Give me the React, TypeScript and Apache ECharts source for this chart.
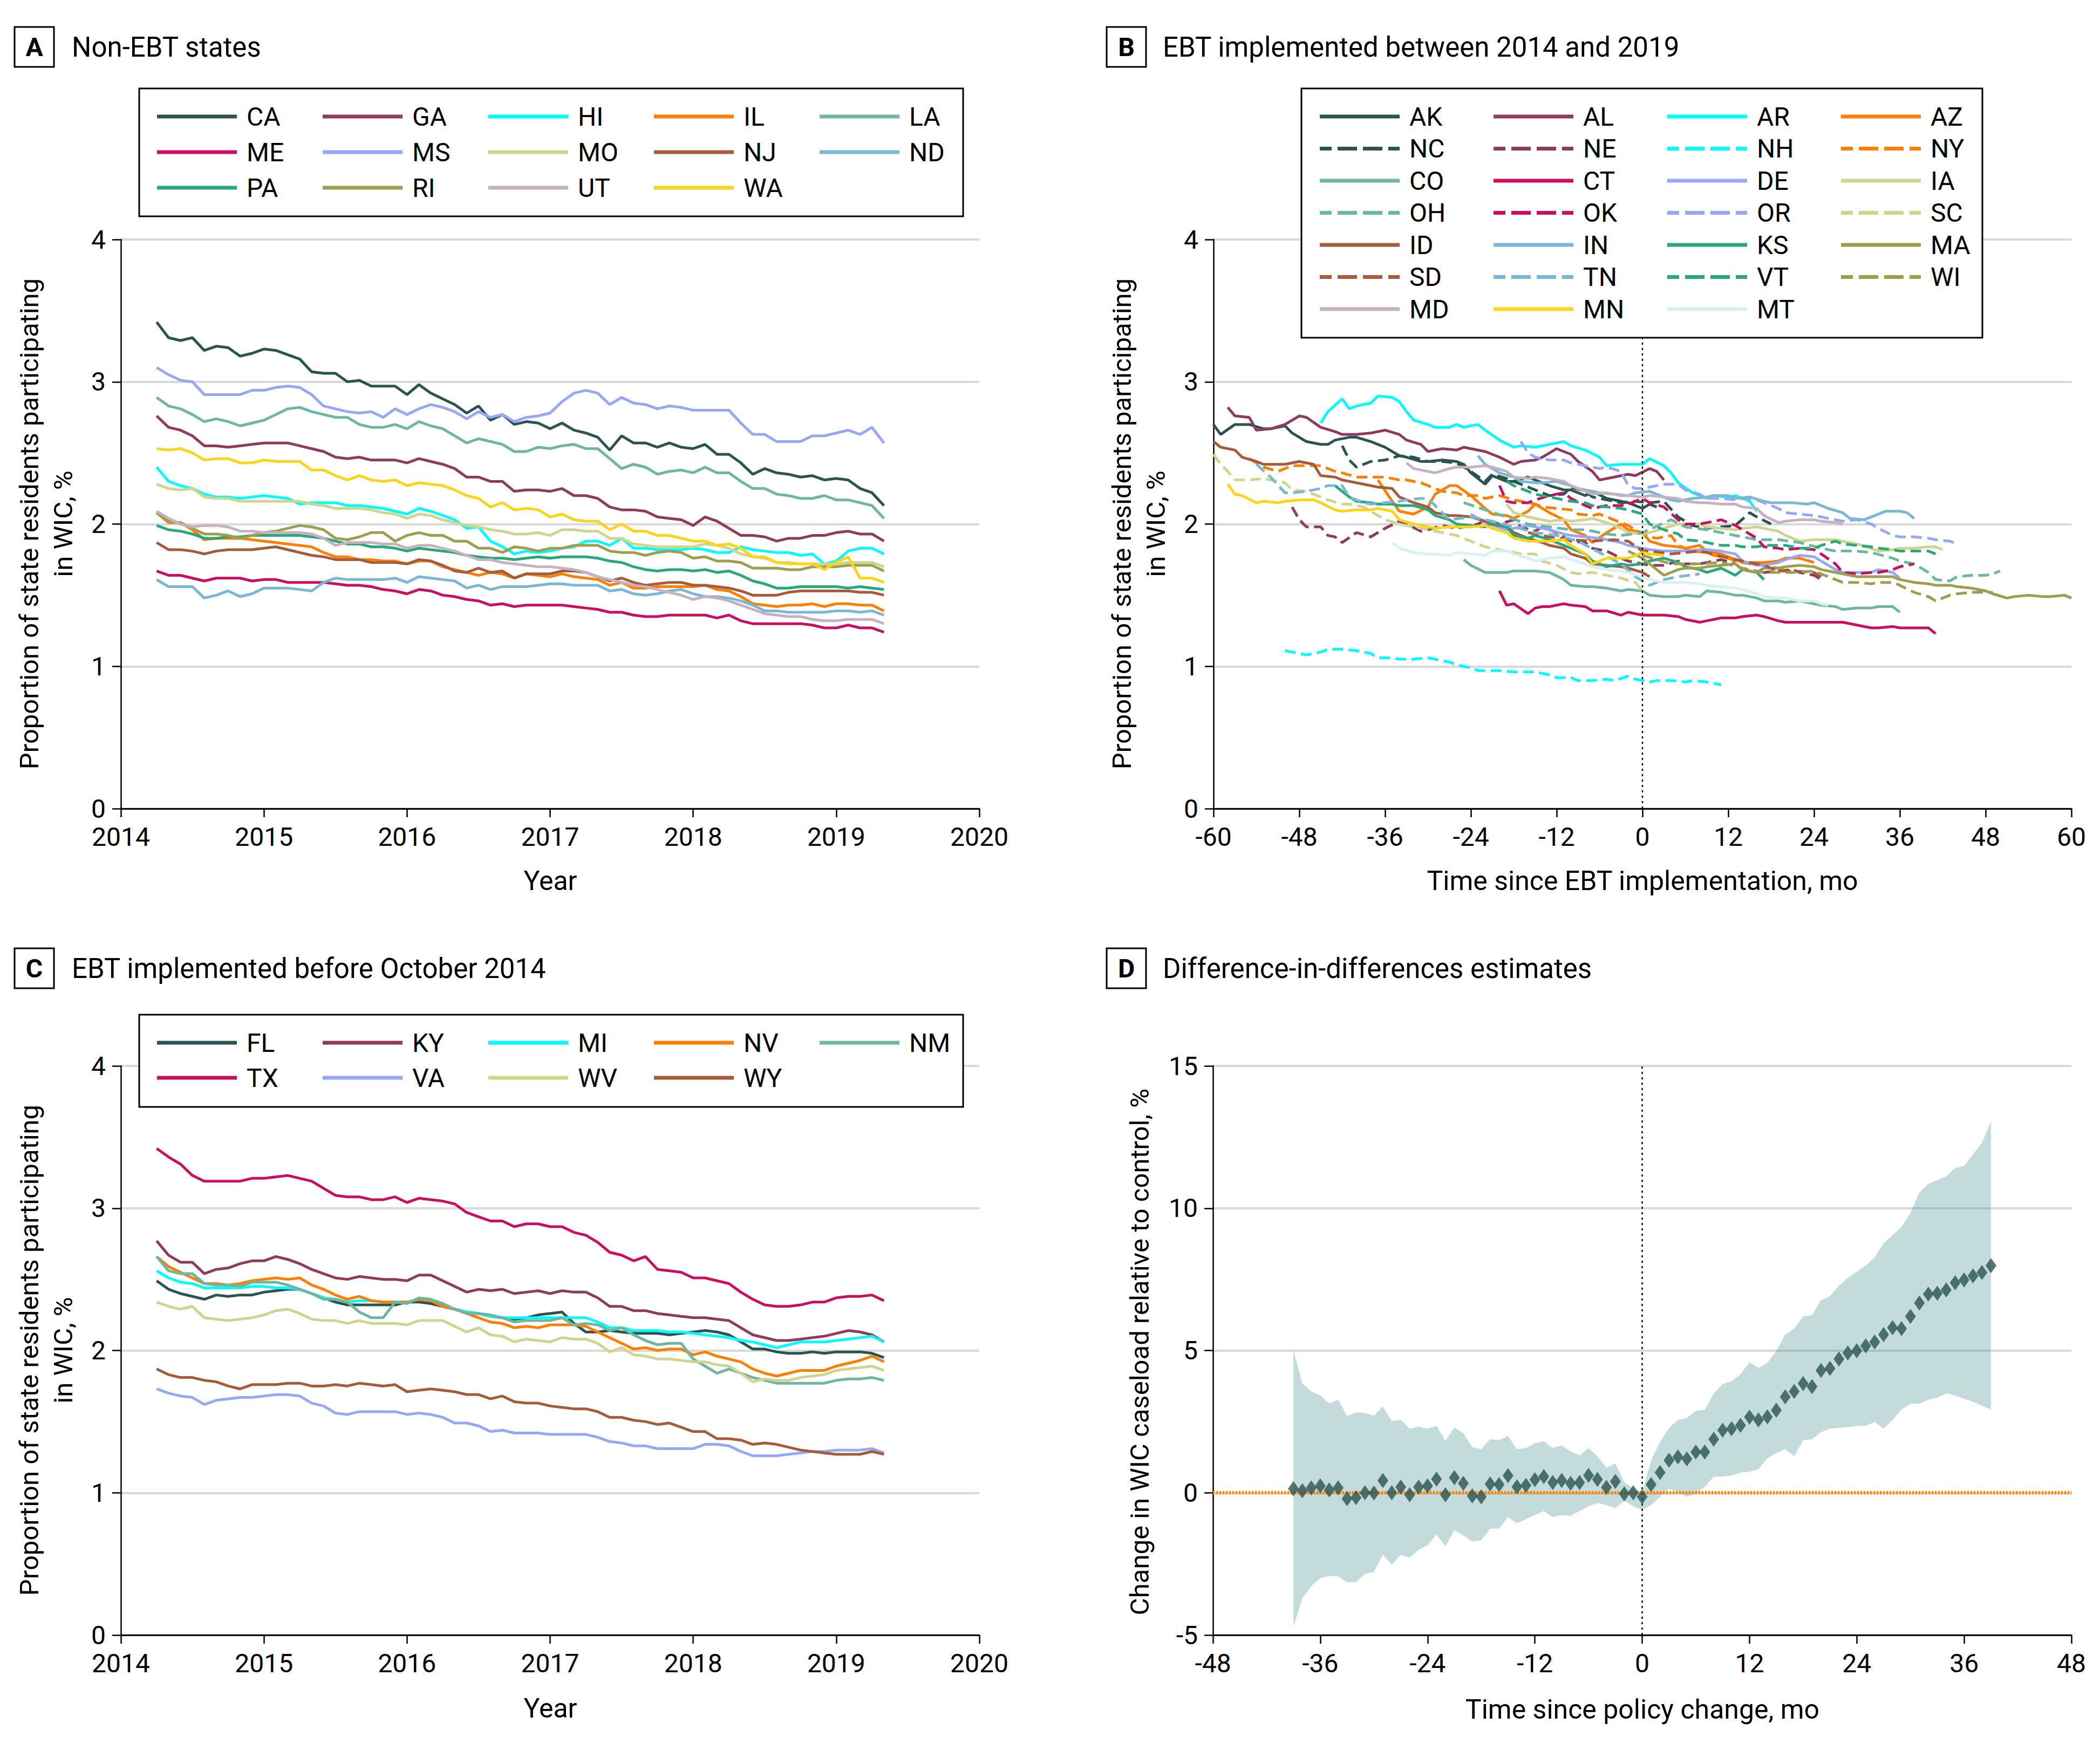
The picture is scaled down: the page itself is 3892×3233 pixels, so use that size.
import React, { useEffect, useRef } from "react";
import * as echarts from "echarts";

const FONT = "Roboto";

// ---------------- Panel A: non-EBT states, monthly from April 2014 ----------------
const A_START = 2014.25;
const A_CA = [3.42,3.31,3.29,3.31,3.22,3.25,3.24,3.18,3.20,3.23,3.22,3.19,3.16,3.07,3.06,3.06,3.00,3.01,2.97,2.97,2.97,2.91,2.98,2.92,2.88,2.84,2.78,2.83,2.73,2.77,2.70,2.72,2.71,2.67,2.71,2.66,2.64,2.61,2.52,2.62,2.57,2.57,2.54,2.57,2.54,2.53,2.56,2.49,2.49,2.43,2.35,2.39,2.36,2.35,2.33,2.34,2.31,2.32,2.31,2.25,2.22,2.13];
const A_GA = [2.76,2.68,2.66,2.62,2.55,2.55,2.54,2.55,2.56,2.57,2.57,2.57,2.55,2.53,2.51,2.47,2.46,2.47,2.45,2.45,2.45,2.43,2.46,2.44,2.42,2.39,2.33,2.33,2.30,2.30,2.23,2.24,2.24,2.23,2.25,2.20,2.20,2.18,2.12,2.10,2.10,2.09,2.05,2.04,2.03,1.99,2.05,2.02,1.97,1.92,1.92,1.91,1.88,1.90,1.90,1.92,1.92,1.94,1.95,1.93,1.93,1.88];
const A_HI = [2.40,2.30,2.27,2.25,2.21,2.19,2.19,2.18,2.19,2.20,2.19,2.18,2.14,2.15,2.15,2.15,2.13,2.13,2.12,2.11,2.09,2.07,2.11,2.09,2.06,2.03,1.97,1.98,1.88,1.84,1.79,1.81,1.80,1.81,1.83,1.84,1.88,1.88,1.85,1.90,1.83,1.83,1.82,1.82,1.82,1.83,1.82,1.80,1.80,1.84,1.82,1.81,1.80,1.80,1.78,1.79,1.72,1.74,1.81,1.83,1.83,1.79];
const A_IL = [2.08,2.01,2.01,1.96,1.89,1.90,1.90,1.90,1.89,1.88,1.87,1.86,1.85,1.84,1.80,1.77,1.77,1.75,1.75,1.74,1.74,1.72,1.74,1.74,1.70,1.68,1.66,1.64,1.66,1.65,1.62,1.65,1.64,1.63,1.65,1.63,1.62,1.61,1.57,1.59,1.55,1.55,1.56,1.56,1.56,1.56,1.57,1.54,1.53,1.49,1.44,1.43,1.42,1.43,1.43,1.44,1.42,1.44,1.44,1.43,1.43,1.39];
const A_LA = [2.89,2.83,2.81,2.77,2.72,2.74,2.72,2.69,2.71,2.73,2.77,2.81,2.82,2.79,2.77,2.75,2.75,2.70,2.68,2.68,2.70,2.67,2.72,2.69,2.67,2.62,2.57,2.60,2.58,2.56,2.51,2.51,2.54,2.53,2.55,2.56,2.53,2.53,2.46,2.39,2.42,2.40,2.35,2.37,2.38,2.36,2.40,2.36,2.36,2.30,2.25,2.25,2.21,2.20,2.18,2.18,2.20,2.17,2.17,2.15,2.13,2.04];
const A_ME = [1.67,1.64,1.64,1.62,1.60,1.62,1.62,1.62,1.60,1.61,1.61,1.59,1.59,1.59,1.59,1.58,1.57,1.57,1.56,1.54,1.53,1.51,1.54,1.53,1.50,1.49,1.47,1.46,1.43,1.44,1.42,1.43,1.43,1.43,1.43,1.42,1.41,1.40,1.38,1.38,1.36,1.35,1.35,1.36,1.36,1.36,1.36,1.34,1.36,1.32,1.30,1.30,1.30,1.30,1.30,1.29,1.27,1.27,1.29,1.27,1.27,1.24];
const A_MS = [3.10,3.05,3.01,3.00,2.91,2.91,2.91,2.91,2.94,2.94,2.96,2.97,2.96,2.91,2.83,2.81,2.79,2.78,2.79,2.75,2.81,2.77,2.81,2.84,2.82,2.79,2.74,2.79,2.75,2.77,2.72,2.75,2.76,2.78,2.86,2.92,2.94,2.92,2.84,2.89,2.85,2.84,2.81,2.83,2.82,2.80,2.80,2.80,2.80,2.71,2.63,2.63,2.58,2.58,2.58,2.62,2.62,2.64,2.66,2.63,2.68,2.57];
const A_MO = [2.28,2.25,2.24,2.25,2.19,2.18,2.18,2.16,2.16,2.16,2.16,2.16,2.16,2.14,2.13,2.11,2.11,2.11,2.10,2.08,2.07,2.04,2.07,2.06,2.03,2.01,1.99,1.98,1.96,1.95,1.93,1.93,1.94,1.92,1.96,1.96,1.95,1.95,1.90,1.90,1.86,1.85,1.84,1.84,1.84,1.84,1.86,1.85,1.83,1.79,1.77,1.76,1.73,1.73,1.72,1.72,1.72,1.72,1.73,1.73,1.73,1.70];
const A_NJ = [1.87,1.82,1.82,1.81,1.79,1.81,1.82,1.82,1.82,1.83,1.84,1.82,1.80,1.78,1.77,1.75,1.75,1.75,1.73,1.73,1.73,1.72,1.75,1.74,1.71,1.67,1.66,1.69,1.66,1.67,1.62,1.65,1.65,1.65,1.67,1.67,1.66,1.63,1.60,1.62,1.59,1.57,1.58,1.59,1.59,1.57,1.57,1.56,1.55,1.53,1.50,1.50,1.50,1.52,1.53,1.53,1.53,1.53,1.53,1.52,1.52,1.50];
const A_ND = [1.61,1.56,1.56,1.56,1.48,1.50,1.53,1.49,1.51,1.55,1.55,1.55,1.54,1.53,1.59,1.62,1.61,1.61,1.61,1.61,1.62,1.59,1.63,1.62,1.61,1.60,1.55,1.57,1.54,1.56,1.56,1.56,1.57,1.58,1.58,1.57,1.57,1.57,1.53,1.54,1.51,1.50,1.51,1.53,1.54,1.51,1.49,1.49,1.48,1.46,1.43,1.39,1.39,1.38,1.38,1.38,1.38,1.39,1.39,1.38,1.39,1.36];
const A_PA = [1.99,1.96,1.95,1.93,1.90,1.90,1.91,1.91,1.92,1.92,1.92,1.92,1.92,1.91,1.90,1.88,1.86,1.86,1.84,1.84,1.83,1.81,1.83,1.82,1.81,1.80,1.78,1.77,1.76,1.76,1.75,1.76,1.77,1.76,1.77,1.77,1.77,1.76,1.74,1.73,1.70,1.68,1.67,1.68,1.68,1.67,1.68,1.66,1.67,1.64,1.60,1.58,1.55,1.55,1.56,1.56,1.56,1.56,1.55,1.56,1.55,1.54];
const A_RI = [2.08,2.02,2.01,1.97,1.93,1.93,1.92,1.90,1.92,1.94,1.95,1.97,1.99,1.98,1.96,1.90,1.89,1.91,1.94,1.94,1.88,1.92,1.94,1.92,1.92,1.88,1.88,1.83,1.83,1.80,1.84,1.83,1.81,1.83,1.83,1.85,1.85,1.85,1.81,1.80,1.80,1.78,1.80,1.81,1.80,1.76,1.77,1.74,1.74,1.73,1.69,1.69,1.69,1.68,1.68,1.70,1.70,1.70,1.71,1.71,1.71,1.67];
const A_UT = [2.09,2.04,2.00,1.98,1.99,1.99,1.98,1.95,1.95,1.94,1.94,1.94,1.94,1.93,1.90,1.85,1.87,1.87,1.87,1.86,1.86,1.83,1.85,1.85,1.83,1.81,1.78,1.75,1.75,1.73,1.72,1.71,1.70,1.70,1.69,1.68,1.66,1.63,1.61,1.59,1.57,1.56,1.54,1.52,1.50,1.47,1.49,1.48,1.46,1.43,1.40,1.37,1.36,1.35,1.35,1.33,1.32,1.32,1.33,1.33,1.33,1.30];
const A_WA = [2.53,2.52,2.53,2.50,2.45,2.46,2.46,2.43,2.43,2.45,2.44,2.44,2.44,2.38,2.38,2.34,2.31,2.34,2.31,2.30,2.31,2.27,2.29,2.28,2.27,2.24,2.20,2.18,2.12,2.15,2.10,2.11,2.10,2.05,2.07,2.03,2.02,2.02,1.96,2.00,1.95,1.95,1.92,1.92,1.90,1.88,1.88,1.85,1.86,1.83,1.77,1.77,1.73,1.72,1.72,1.72,1.68,1.73,1.77,1.62,1.62,1.59];

// ---------------- Panel C: EBT before October 2014, monthly from April 2014 ----------------
const C_FL = [2.49,2.43,2.40,2.38,2.36,2.39,2.38,2.39,2.39,2.41,2.42,2.43,2.43,2.40,2.37,2.34,2.32,2.32,2.32,2.32,2.32,2.34,2.34,2.33,2.31,2.29,2.27,2.26,2.24,2.23,2.22,2.23,2.25,2.26,2.27,2.19,2.13,2.13,2.14,2.13,2.12,2.12,2.12,2.11,2.12,2.13,2.14,2.13,2.11,2.06,2.01,2.01,1.99,1.98,1.98,1.99,1.98,1.99,1.99,1.99,1.98,1.95];
const C_KY = [2.77,2.67,2.62,2.62,2.54,2.57,2.58,2.61,2.63,2.63,2.66,2.64,2.61,2.57,2.54,2.51,2.50,2.52,2.51,2.50,2.50,2.49,2.53,2.53,2.49,2.45,2.41,2.43,2.42,2.43,2.40,2.41,2.42,2.40,2.42,2.41,2.41,2.37,2.31,2.31,2.28,2.28,2.26,2.25,2.24,2.23,2.23,2.22,2.21,2.16,2.11,2.09,2.07,2.07,2.08,2.09,2.10,2.12,2.14,2.13,2.11,2.06];
const C_MI = [2.56,2.51,2.48,2.47,2.44,2.44,2.44,2.44,2.45,2.45,2.44,2.44,2.43,2.40,2.37,2.36,2.34,2.35,2.35,2.34,2.34,2.34,2.36,2.35,2.32,2.29,2.27,2.26,2.24,2.23,2.23,2.23,2.23,2.23,2.23,2.23,2.23,2.20,2.16,2.16,2.14,2.14,2.14,2.13,2.13,2.12,2.11,2.10,2.09,2.07,2.06,2.04,2.02,2.04,2.06,2.06,2.06,2.07,2.08,2.09,2.10,2.06];
const C_NV = [2.66,2.59,2.55,2.51,2.47,2.47,2.46,2.47,2.49,2.50,2.51,2.50,2.51,2.46,2.43,2.39,2.36,2.38,2.35,2.34,2.34,2.34,2.36,2.35,2.31,2.29,2.26,2.23,2.20,2.19,2.16,2.17,2.16,2.18,2.18,2.18,2.17,2.13,2.09,2.05,2.01,2.02,2.00,2.01,2.01,1.97,1.99,1.96,1.94,1.92,1.87,1.84,1.82,1.84,1.86,1.86,1.86,1.89,1.91,1.93,1.96,1.92];
const C_NM = [2.66,2.56,2.54,2.54,2.47,2.46,2.46,2.45,2.48,2.48,2.48,2.46,2.43,2.40,2.36,2.36,2.34,2.27,2.23,2.23,2.34,2.33,2.37,2.36,2.33,2.29,2.26,2.26,2.25,2.23,2.20,2.21,2.21,2.21,2.23,2.18,2.19,2.18,2.14,2.16,2.11,2.07,2.04,2.05,2.05,1.94,1.89,1.84,1.87,1.84,1.81,1.79,1.77,1.77,1.77,1.77,1.77,1.79,1.80,1.80,1.81,1.79];
const C_TX = [3.42,3.36,3.31,3.23,3.19,3.19,3.19,3.19,3.21,3.21,3.22,3.23,3.21,3.19,3.14,3.09,3.08,3.08,3.06,3.06,3.08,3.04,3.07,3.06,3.05,3.03,2.97,2.94,2.91,2.91,2.87,2.89,2.89,2.87,2.87,2.83,2.81,2.76,2.69,2.67,2.63,2.66,2.57,2.56,2.55,2.51,2.51,2.49,2.47,2.41,2.36,2.32,2.31,2.31,2.32,2.34,2.34,2.37,2.38,2.38,2.39,2.35];
const C_VA = [1.73,1.70,1.68,1.67,1.62,1.65,1.66,1.67,1.67,1.68,1.69,1.69,1.68,1.63,1.61,1.56,1.55,1.57,1.57,1.57,1.57,1.55,1.56,1.55,1.53,1.49,1.49,1.47,1.43,1.44,1.42,1.42,1.42,1.41,1.41,1.41,1.41,1.39,1.36,1.35,1.33,1.33,1.31,1.31,1.31,1.31,1.34,1.34,1.33,1.29,1.26,1.26,1.26,1.27,1.28,1.29,1.29,1.30,1.30,1.30,1.31,1.28];
const C_WV = [2.34,2.31,2.29,2.31,2.23,2.22,2.21,2.22,2.23,2.25,2.28,2.29,2.26,2.22,2.21,2.21,2.19,2.21,2.19,2.19,2.19,2.18,2.21,2.21,2.21,2.17,2.13,2.16,2.11,2.10,2.06,2.08,2.07,2.06,2.09,2.08,2.08,2.05,1.99,2.02,1.97,1.96,1.94,1.94,1.93,1.92,1.92,1.90,1.89,1.84,1.78,1.80,1.79,1.79,1.81,1.82,1.83,1.86,1.87,1.88,1.89,1.86];
const C_WY = [1.87,1.83,1.81,1.81,1.79,1.78,1.75,1.73,1.76,1.76,1.76,1.77,1.77,1.75,1.75,1.76,1.75,1.77,1.76,1.75,1.76,1.71,1.72,1.73,1.72,1.71,1.69,1.69,1.66,1.68,1.64,1.63,1.63,1.61,1.60,1.59,1.59,1.57,1.53,1.53,1.51,1.50,1.48,1.49,1.46,1.43,1.43,1.38,1.38,1.37,1.34,1.35,1.34,1.32,1.30,1.29,1.28,1.27,1.27,1.27,1.29,1.27];

// ---------------- Panel B: EBT implemented 2014-2019, [months since EBT, %] ----------------
const B_AK = [[-60,2.70],[-59,2.63],[-57,2.70],[-55,2.70],[-53,2.67],[-52,2.67],[-50,2.69],[-49,2.64],[-47,2.58],[-45,2.56],[-44,2.56],[-43,2.59],[-41,2.61],[-40,2.61],[-38,2.58],[-36,2.54],[-34,2.48],[-33,2.47],[-31,2.44],[-30,2.44],[-28,2.45],[-26,2.44],[-25,2.42],[-24,2.36],[-22,2.28],[-21,2.34],[-19,2.30],[-18,2.30],[-16,2.33],[-14,2.29],[-13,2.27],[-11,2.24],[-10,2.24],[-8,2.20],[-7,2.23],[-5,2.18],[-3,2.16],[-2,2.15],[0,2.11],[1,2.14],[2,2.12]];
const B_NC = [[-42,2.55],[-41,2.45],[-40,2.40],[-38,2.44],[-36,2.45],[-34,2.48],[-32,2.47],[-30,2.44],[-28,2.44],[-26,2.43],[-24,2.37],[-22,2.30],[-21,2.35],[-19,2.32],[-17,2.28],[-15,2.24],[-13,2.20],[-11,2.21],[-10,2.26],[-8,2.23],[-7,2.19],[-5,2.17],[-3,2.15],[-1,2.16],[1,2.15],[3,2.16],[5,2.05],[7,1.99],[9,1.97],[11,1.98],[13,1.99],[15,2.08],[16,2.05],[18,2.00]];
const B_AL = [[-58,2.82],[-57,2.76],[-55,2.75],[-54,2.66],[-52,2.67],[-50,2.70],[-48,2.76],[-47,2.75],[-45,2.68],[-43,2.65],[-42,2.63],[-40,2.63],[-38,2.64],[-36,2.66],[-34,2.63],[-33,2.59],[-31,2.56],[-30,2.51],[-28,2.53],[-26,2.52],[-25,2.54],[-24,2.53],[-22,2.51],[-20,2.47],[-18,2.42],[-17,2.44],[-15,2.45],[-14,2.47],[-12,2.53],[-10,2.49],[-9,2.44],[-7,2.37],[-6,2.31],[-4,2.33],[-2,2.35],[-1,2.34],[1,2.39],[2,2.37],[3,2.31]];
const B_NE = [[-49,2.12],[-48,2.03],[-47,1.98],[-45,1.98],[-44,1.92],[-43,1.91],[-42,1.87],[-40,1.94],[-38,1.91],[-36,1.97],[-34,2.02],[-33,2.00],[-31,1.95],[-30,1.96],[-28,1.99],[-26,1.97],[-25,1.98],[-23,2.00],[-22,2.03],[-20,2.00],[-18,2.03],[-17,1.98],[-15,1.95],[-14,1.98],[-12,1.94],[-10,1.88],[-8,1.87],[-7,1.83],[-5,1.81],[-3,1.76],[-2,1.74],[0,1.72],[1,1.71],[3,1.71],[5,1.74],[6,1.72],[8,1.72],[9,1.73],[11,1.75],[13,1.72],[14,1.68],[16,1.66],[17,1.66],[19,1.67],[21,1.68],[22,1.66],[24,1.64],[25,1.61]];
const B_AR = [[-45,2.71],[-44,2.79],[-42,2.88],[-41,2.81],[-40,2.83],[-38,2.85],[-37,2.90],[-35,2.89],[-34,2.86],[-33,2.79],[-32,2.73],[-30,2.70],[-29,2.68],[-27,2.68],[-26,2.70],[-25,2.68],[-23,2.70],[-22,2.66],[-20,2.59],[-18,2.54],[-17,2.55],[-15,2.54],[-14,2.55],[-12,2.57],[-11,2.58],[-10,2.55],[-8,2.52],[-6,2.47],[-5,2.41],[-3,2.42],[-2,2.42],[0,2.42],[1,2.46],[3,2.41],[4,2.36],[5,2.29],[7,2.22],[9,2.18],[10,2.20],[12,2.19],[13,2.20],[15,2.16],[16,2.09]];
const B_NH = [[-50,1.11],[-48,1.09],[-47,1.08],[-45,1.10],[-44,1.12],[-42,1.12],[-40,1.11],[-38,1.09],[-37,1.06],[-35,1.06],[-34,1.05],[-32,1.05],[-30,1.06],[-29,1.05],[-27,1.03],[-26,1.01],[-24,0.99],[-23,0.97],[-21,0.97],[-20,0.97],[-18,0.96],[-17,0.96],[-15,0.96],[-13,0.94],[-12,0.92],[-10,0.92],[-9,0.90],[-7,0.90],[-5,0.91],[-4,0.90],[-2,0.93],[-1,0.91],[1,0.89],[2,0.90],[4,0.90],[6,0.89],[7,0.90],[9,0.89],[11,0.87]];
const B_AZ = [[-37,2.31],[-35,2.16],[-34,2.09],[-32,2.07],[-30,2.12],[-29,2.21],[-27,2.27],[-26,2.27],[-24,2.20],[-22,2.11],[-21,2.07],[-19,2.06],[-18,2.04],[-16,2.09],[-15,2.14],[-13,2.08],[-11,2.03],[-10,1.96],[-8,1.92],[-7,1.87],[-5,1.94],[-3,2.00],[-2,1.96],[0,1.94],[1,1.88],[3,1.85],[5,1.84],[6,1.83],[8,1.85],[9,1.81],[11,1.79],[13,1.75],[14,1.73],[16,1.73],[17,1.73],[19,1.74],[20,1.76],[22,1.76],[24,1.73]];
const B_NY = [[-55,2.46],[-53,2.40],[-51,2.37],[-49,2.41],[-46,2.41],[-45,2.41],[-43,2.37],[-42,2.36],[-40,2.33],[-38,2.33],[-36,2.33],[-34,2.31],[-33,2.31],[-31,2.29],[-30,2.27],[-28,2.23],[-26,2.22],[-25,2.20],[-23,2.20],[-22,2.18],[-20,2.20],[-18,2.17],[-17,2.16],[-15,2.14],[-14,2.12],[-12,2.11],[-10,2.10],[-9,2.07],[-7,2.06],[-6,2.07],[-4,2.03],[-2,1.99],[-1,1.96],[1,1.91],[2,1.90],[4,1.92],[5,1.85],[7,1.81],[9,1.80],[10,1.78],[12,1.76],[13,1.74],[15,1.72],[17,1.71],[18,1.70],[20,1.68]];
const B_CO = [[-25,1.75],[-24,1.71],[-22,1.66],[-21,1.66],[-19,1.66],[-18,1.67],[-16,1.67],[-15,1.67],[-13,1.66],[-11,1.61],[-10,1.57],[-8,1.56],[-7,1.56],[-5,1.55],[-3,1.53],[-2,1.54],[0,1.53],[1,1.50],[3,1.49],[5,1.49],[6,1.50],[8,1.49],[9,1.53],[11,1.52],[13,1.50],[14,1.50],[16,1.48],[17,1.46],[19,1.46],[20,1.45],[22,1.46],[24,1.44],[25,1.43],[27,1.42],[28,1.40],[30,1.41],[32,1.41],[33,1.42],[35,1.42],[36,1.38]];
const B_CT = [[-20,1.53],[-19,1.43],[-18,1.44],[-16,1.37],[-15,1.41],[-14,1.42],[-13,1.42],[-11,1.44],[-10,1.43],[-8,1.42],[-7,1.39],[-5,1.39],[-3,1.36],[-2,1.38],[0,1.36],[1,1.36],[3,1.36],[5,1.35],[6,1.33],[8,1.31],[9,1.32],[11,1.34],[13,1.34],[14,1.35],[16,1.36],[17,1.35],[19,1.32],[20,1.31],[22,1.31],[24,1.31],[25,1.31],[27,1.31],[28,1.31],[30,1.29],[32,1.27],[33,1.27],[35,1.28],[36,1.27],[38,1.27],[40,1.27],[41,1.23]];
const B_DE = [[-24,2.07],[-22,2.01],[-19,1.96],[-18,1.97],[-16,1.99],[-14,1.97],[-13,1.96],[-11,1.93],[-10,1.92],[-8,1.91],[-6,1.90],[-5,1.89],[-3,1.87],[-2,1.85],[0,1.83],[1,1.82],[3,1.81],[5,1.81],[6,1.81],[8,1.82],[9,1.82],[11,1.81],[13,1.79],[14,1.74],[16,1.71],[17,1.71],[19,1.73],[20,1.75],[22,1.78],[24,1.77],[25,1.74],[27,1.68],[28,1.66],[30,1.66],[32,1.66],[33,1.68],[35,1.66],[36,1.62]];
const B_IA = [[-19,2.14],[-18,2.08],[-16,2.05],[-15,2.04],[-13,2.02],[-11,2.03],[-10,2.02],[-8,2.03],[-7,2.04],[-5,2.01],[-3,1.97],[-2,1.94],[0,1.93],[1,1.94],[3,1.97],[5,2.00],[6,2.00],[8,2.00],[9,1.98],[11,1.97],[13,1.96],[14,1.97],[16,1.98],[17,1.97],[19,1.95],[20,1.92],[22,1.88],[24,1.89],[25,1.89],[27,1.89],[28,1.88],[30,1.86],[32,1.83],[33,1.81],[35,1.82],[36,1.83],[38,1.83],[40,1.84],[41,1.84],[42,1.82]];
const B_OH = [[-25,2.15],[-22,2.10],[-19,2.05],[-16,2.00],[-13,1.98],[-10,1.96],[-8,1.96],[-5,1.93],[-3,1.92],[0,1.94],[4,2.03],[6,1.98],[9,1.96],[13,1.92],[16,1.89],[19,1.89],[22,1.87],[25,1.83],[27,1.81],[30,1.81],[32,1.80],[35,1.76],[36,1.74],[38,1.72],[40,1.66],[41,1.61],[43,1.60],[44,1.63],[46,1.64],[48,1.64],[49,1.65],[50,1.67]];
const B_OK = [[-20,2.27],[-19,2.16],[-18,2.15],[-16,2.15],[-15,2.17],[-13,2.20],[-11,2.22],[-10,2.18],[-8,2.13],[-7,2.11],[-5,2.13],[-3,2.13],[-2,2.14],[0,2.18],[1,2.15],[3,2.12],[5,2.03],[6,2.00],[8,2.00],[9,2.01],[11,2.03],[13,1.99],[14,1.96],[16,1.90],[17,1.84],[19,1.83],[20,1.82],[22,1.83],[24,1.82],[25,1.79],[27,1.72],[28,1.66],[30,1.65],[32,1.66],[33,1.66],[35,1.68],[36,1.70],[38,1.72]];
const B_OR = [[-17,2.58],[-16,2.50],[-15,2.47],[-13,2.45],[-11,2.45],[-10,2.43],[-8,2.41],[-6,2.39],[-5,2.40],[-3,2.37],[-2,2.27],[-1,2.25],[0,2.25],[1,2.26],[3,2.28],[5,2.28],[6,2.24],[8,2.21],[9,2.18],[11,2.18],[13,2.17],[14,2.18],[16,2.17],[17,2.15],[19,2.11],[20,2.08],[22,2.07],[24,2.06],[25,2.05],[27,2.03],[28,2.02],[30,2.03],[32,2.00],[33,1.97],[35,1.92],[36,1.91],[38,1.91],[40,1.90],[41,1.89],[43,1.88],[44,1.86]];
const B_SC = [[-60,2.49],[-59,2.42],[-58,2.37],[-57,2.31],[-55,2.31],[-53,2.32],[-52,2.31],[-50,2.29],[-49,2.24],[-47,2.23],[-45,2.19],[-44,2.17],[-42,2.14],[-41,2.14],[-39,2.12],[-38,2.09],[-36,2.03],[-34,2.00],[-33,1.99],[-31,1.97],[-30,1.96],[-28,1.94],[-26,1.92],[-25,1.90],[-23,1.86],[-22,1.84],[-20,1.82],[-18,1.80],[-17,1.79],[-15,1.79],[-14,1.74],[-12,1.71],[-10,1.66],[-9,1.65],[-7,1.66],[-6,1.65],[-4,1.63],[-3,1.62],[-1,1.59],[0,1.53]];
const B_ID = [[-60,2.58],[-59,2.54],[-57,2.52],[-56,2.47],[-54,2.44],[-53,2.42],[-51,2.42],[-50,2.42],[-48,2.44],[-46,2.42],[-45,2.34],[-43,2.33],[-42,2.31],[-40,2.29],[-38,2.27],[-37,2.26],[-35,2.25],[-34,2.19],[-32,2.15],[-30,2.12],[-29,2.08],[-27,2.06],[-26,2.06],[-24,2.05],[-22,2.02],[-21,2.00],[-19,1.98],[-18,1.94],[-16,1.90],[-14,1.87],[-13,1.85],[-11,1.83],[-10,1.79],[-8,1.76],[-7,1.72],[-5,1.71],[-3,1.70],[-2,1.69],[0,1.66],[1,1.63]];
const B_SD = [[-16,1.94],[-13,1.91],[-10,1.89],[-7,1.88],[-4,1.89],[-2,1.88],[0,1.81],[1,1.81],[4,1.79],[6,1.80],[8,1.81],[9,1.80],[12,1.76],[14,1.74],[17,1.71],[19,1.67],[21,1.67],[24,1.66],[25,1.63]];
const B_IN = [[-23,2.48],[-22,2.42],[-20,2.36],[-18,2.33],[-17,2.30],[-15,2.29],[-14,2.29],[-12,2.30],[-10,2.27],[-9,2.25],[-7,2.23],[-6,2.22],[-4,2.21],[-2,2.20],[-1,2.22],[1,2.23],[2,2.21],[4,2.17],[5,2.16],[7,2.18],[9,2.19],[10,2.20],[12,2.20],[13,2.18],[15,2.19],[17,2.16],[18,2.15],[20,2.15],[21,2.15],[23,2.14],[24,2.15],[26,2.11],[28,2.08],[29,2.04],[31,2.03],[32,2.05],[34,2.09],[36,2.09],[37,2.08],[38,2.04]];
const B_TN = [[-54,2.42],[-52,2.33],[-50,2.22],[-49,2.22],[-47,2.23],[-45,2.25],[-44,2.27],[-42,2.27],[-41,2.19],[-39,2.15],[-38,2.14],[-36,2.15],[-34,2.16],[-33,2.17],[-31,2.18],[-30,2.18],[-27,2.03],[-24,2.05],[-21,2.02],[-18,1.98],[-15,1.94],[-12,1.92],[-9,1.88],[-6,1.80],[-3,1.72],[-1,1.63],[1,1.57],[3,1.61],[5,1.63],[8,1.65]];
const B_KS = [[-43,2.27],[-41,2.19],[-40,2.16],[-38,2.15],[-37,2.14],[-35,2.14],[-34,2.13],[-32,2.13],[-30,2.10],[-29,2.06],[-27,2.03],[-26,2.00],[-24,1.99],[-22,1.98],[-21,2.01],[-19,1.98],[-18,1.92],[-16,1.90],[-15,1.92],[-13,1.89],[-11,1.85],[-10,1.83],[-8,1.79],[-7,1.74],[-5,1.70],[-3,1.72],[-2,1.71],[0,1.72],[1,1.74],[3,1.76],[5,1.73],[6,1.70],[8,1.68],[9,1.66],[11,1.69],[13,1.64],[14,1.68],[16,1.66],[17,1.61]];
const B_VT = [[-19,2.30],[-18,2.27],[-16,2.23],[-15,2.21],[-13,2.19],[-11,2.17],[-10,2.16],[-8,2.15],[-7,2.13],[-5,2.12],[-3,2.11],[-2,2.10],[0,2.07],[1,2.00],[3,1.96],[5,1.93],[6,1.89],[8,1.88],[9,1.87],[11,1.85],[13,1.85],[14,1.84],[16,1.84],[17,1.85],[19,1.85],[20,1.85],[22,1.83],[24,1.83],[25,1.85],[27,1.88],[28,1.86],[30,1.85],[32,1.84],[33,1.83],[35,1.82],[36,1.81],[38,1.81],[40,1.81],[41,1.79]];
const B_MA = [[-2,1.81],[0,1.76],[1,1.72],[3,1.64],[5,1.68],[6,1.69],[8,1.69],[9,1.70],[11,1.71],[13,1.72],[14,1.68],[16,1.66],[17,1.69],[19,1.69],[20,1.70],[22,1.71],[24,1.70],[25,1.68],[27,1.66],[28,1.65],[30,1.63],[32,1.63],[33,1.63],[35,1.63],[36,1.61],[38,1.59],[40,1.58],[41,1.57],[43,1.57],[44,1.56],[46,1.55],[48,1.53],[49,1.51],[51,1.48],[52,1.49],[54,1.50],[56,1.49],[57,1.49],[59,1.50],[60,1.48]];
const B_WI = [[0,1.78],[4,1.72],[8,1.72],[11,1.73],[14,1.69],[17,1.66],[21,1.66],[24,1.67],[25,1.65],[27,1.61],[28,1.59],[30,1.59],[32,1.58],[33,1.59],[35,1.59],[36,1.57],[38,1.52],[40,1.49],[41,1.46],[43,1.50],[44,1.51],[46,1.52],[48,1.52],[49,1.52]];
const B_MD = [[-33,2.43],[-32,2.39],[-30,2.37],[-29,2.36],[-27,2.39],[-26,2.40],[-24,2.40],[-22,2.41],[-21,2.40],[-19,2.37],[-18,2.33],[-16,2.32],[-15,2.33],[-13,2.32],[-11,2.30],[-10,2.27],[-8,2.23],[-7,2.21],[-5,2.22],[-3,2.20],[-2,2.20],[0,2.19],[1,2.20],[3,2.19],[5,2.18],[6,2.16],[8,2.15],[9,2.15],[11,2.14],[13,2.14],[14,2.12],[16,2.11],[17,2.06],[19,2.01],[20,2.02],[22,2.03],[24,2.03],[25,2.02],[27,2.01],[28,2.00]];
const B_MN = [[-58,2.28],[-57,2.21],[-56,2.20],[-54,2.15],[-53,2.16],[-51,2.15],[-50,2.16],[-48,2.17],[-46,2.17],[-45,2.15],[-43,2.10],[-42,2.09],[-40,2.10],[-38,2.10],[-37,2.11],[-35,2.09],[-34,2.03],[-32,2.00],[-30,1.98],[-29,1.97],[-27,1.98],[-26,1.98],[-24,1.98],[-22,1.99],[-21,1.97],[-19,1.94],[-18,1.90],[-16,1.88],[-14,1.88],[-13,1.88],[-11,1.89],[-10,1.85],[-8,1.79],[-7,1.72],[-5,1.76],[-3,1.76],[-2,1.76],[0,1.80],[1,1.79],[3,1.78]];
const B_MT = [[-35,1.87],[-34,1.83],[-32,1.80],[-30,1.79],[-29,1.79],[-27,1.78],[-26,1.80],[-24,1.79],[-22,1.78],[-21,1.81],[-19,1.81],[-18,1.79],[-16,1.76],[-15,1.74],[-13,1.76],[-11,1.77],[-10,1.75],[-8,1.72],[-7,1.70],[-5,1.68],[-3,1.67],[-2,1.66],[0,1.63],[1,1.61],[3,1.59],[5,1.59],[6,1.59],[8,1.58],[9,1.57],[11,1.56],[13,1.55],[14,1.54],[16,1.51],[17,1.49],[19,1.48],[20,1.48],[22,1.46],[24,1.46],[25,1.44],[26,1.43]];

// ---------------- Panel D: difference-in-differences estimates ----------------
const D_MONTHS = Array.from({ length: 79 }, (_, i) => i - 39);
const D_EST = [0.14,0.07,0.17,0.24,0.10,0.17,-0.21,-0.17,0.00,-0.01,0.43,0.00,0.20,-0.07,0.20,0.24,0.48,-0.07,0.53,0.33,-0.11,-0.14,0.31,0.29,0.60,0.21,0.26,0.46,0.57,0.36,0.43,0.33,0.36,0.61,0.47,0.19,0.40,-0.04,0.00,-0.14,0.29,0.71,1.14,1.26,1.19,1.43,1.43,1.88,2.20,2.25,2.37,2.66,2.56,2.67,2.90,3.37,3.56,3.84,3.73,4.30,4.37,4.70,4.91,4.99,5.16,5.30,5.56,5.80,5.77,6.20,6.67,6.98,7.01,7.13,7.38,7.48,7.62,7.74,7.98];
const D_UPPER = [5.00,3.84,3.56,3.42,3.13,3.27,2.70,2.82,2.80,2.70,3.03,2.52,2.56,2.25,2.32,2.25,2.35,1.82,2.30,2.09,1.60,1.53,1.88,1.85,2.00,1.53,1.57,1.74,1.81,1.57,1.67,1.46,1.31,1.57,1.28,0.88,1.03,0.36,0.15,0.00,1.14,1.78,2.28,2.56,2.63,2.87,2.92,3.49,3.82,3.92,4.16,4.59,4.39,4.56,4.99,5.56,5.77,6.20,6.24,6.77,6.91,7.27,7.55,7.77,7.98,8.27,8.77,9.05,9.34,9.84,10.55,10.86,10.98,11.12,11.41,11.48,11.90,12.29,13.05];
const D_LOWER = [-4.70,-3.70,-3.28,-3.00,-2.92,-2.94,-3.14,-3.14,-2.85,-2.78,-2.18,-2.53,-2.18,-2.28,-2.00,-1.85,-1.47,-1.88,-1.31,-1.50,-1.71,-1.68,-1.26,-1.26,-0.86,-1.07,-0.93,-0.78,-0.64,-0.86,-0.78,-0.81,-0.64,-0.47,-0.36,-0.43,-0.54,-0.29,-0.47,-0.60,-0.43,-0.14,0.14,0.03,-0.14,-0.03,0.21,0.57,0.57,0.60,0.71,0.74,0.83,1.21,1.40,1.53,1.28,1.85,1.88,2.13,2.25,2.28,2.31,2.35,2.35,2.49,2.25,2.56,2.92,3.13,3.13,3.27,3.34,3.49,3.42,3.30,3.20,3.06,2.92];

// ---------------- names, legends, colours ----------------
const A_NAMES = ["CA","GA","HI","IL","LA","ME","MS","MO","NJ","ND","PA","RI","UT","WA"];
const B_NAMES = ["AK","AL","AR","AZ","NC","NE","NH","NY","CO","CT","DE","IA","OH","OK","OR","SC","ID","IN","KS","MA","SD","TN","VT","WI","MD","MN","MT"];
const C_NAMES = ["FL","KY","MI","NV","NM","TX","VA","WV","WY"];
const B_DASHED = ["NC","NE","NH","NY","OH","OK","OR","SC","SD","TN","VT","WI"];

const A_DATA: Record<string, number[]> = { CA: A_CA, GA: A_GA, HI: A_HI, IL: A_IL, LA: A_LA, ME: A_ME, MS: A_MS, MO: A_MO, NJ: A_NJ, ND: A_ND, PA: A_PA, RI: A_RI, UT: A_UT, WA: A_WA };
const C_DATA: Record<string, number[]> = { FL: C_FL, KY: C_KY, MI: C_MI, NV: C_NV, NM: C_NM, TX: C_TX, VA: C_VA, WV: C_WV, WY: C_WY };
const B_DATA: Record<string, number[][]> = { AK: B_AK, AL: B_AL, AR: B_AR, AZ: B_AZ, NC: B_NC, NE: B_NE, NH: B_NH, NY: B_NY, CO: B_CO, CT: B_CT, DE: B_DE, IA: B_IA, OH: B_OH, OK: B_OK, OR: B_OR, SC: B_SC, ID: B_ID, IN: B_IN, KS: B_KS, MA: B_MA, SD: B_SD, TN: B_TN, VT: B_VT, WI: B_WI, MD: B_MD, MN: B_MN, MT: B_MT };

const SLATE = "#2b5451", MAROON = "#8f3b5d", CYAN = "#00fdfd", ORANGE = "#ff7f00", TEAL = "#6db6a0",
  MAGENTA = "#c8105f", PERI = "#96a7f7", PALE = "#cdd58e", BROWN = "#a45c3c", LBLUE = "#7ab6d6",
  GREEN = "#2aa77b", OLIVE = "#9e9e50", MAUVE = "#c4b2c0", YELLOW = "#fcd419", ICE = "#d8f0f2";

const COLORS: Record<string, string> = {
  CA: SLATE, GA: MAROON, HI: CYAN, IL: ORANGE, LA: TEAL, ME: MAGENTA, MS: PERI, MO: PALE, NJ: BROWN, ND: LBLUE, PA: GREEN, RI: OLIVE, UT: MAUVE, WA: YELLOW,
  AK: SLATE, AL: MAROON, AR: CYAN, AZ: ORANGE, NC: SLATE, NE: MAROON, NH: CYAN, NY: ORANGE, CO: TEAL, CT: MAGENTA, DE: PERI, IA: PALE, OH: TEAL, OK: MAGENTA, OR: PERI, SC: PALE,
  ID: BROWN, IN: LBLUE, KS: GREEN, MA: OLIVE, SD: BROWN, TN: LBLUE, VT: GREEN, WI: OLIVE, MD: MAUVE, MN: YELLOW, MT: ICE,
  FL: SLATE, KY: MAROON, MI: CYAN, NV: ORANGE, NM: TEAL, TX: MAGENTA, VA: PERI, WV: PALE, WY: BROWN,
};

const SOLID_ICON = "path://M0 0H148V7H0Z";
const DASH_ICON = "path://M0 0H22V7H0Z M33 0H69V7H33Z M80 0H116V7H80Z M127 0H148V7H127Z";

function xAxis(gridIndex: number, min: number, max: number, interval: number) {
  return {
    type: "value", gridIndex, min, max, interval,
    axisLine: { show: true, onZero: false, lineStyle: { color: "#000", width: 3 } },
    axisTick: { show: true, length: 16, lineStyle: { color: "#000", width: 2.5 } },
    axisLabel: { color: "#000", fontSize: 48, fontFamily: FONT, margin: 28, showMinLabel: true, showMaxLabel: true, formatter: (v: number) => String(v) },
    splitLine: { show: false },
  };
}
function yAxis(gridIndex: number, min: number, max: number, interval: number) {
  return {
    type: "value", gridIndex, min, max, interval,
    axisLine: { show: true, onZero: false, lineStyle: { color: "#000", width: 2.5 } },
    axisTick: { show: true, length: 16, lineStyle: { color: "#000", width: 2.5 } },
    axisLabel: { color: "#000", fontSize: 48, fontFamily: FONT, margin: 28, showMinLabel: true, showMaxLabel: true, formatter: (v: number) => String(v) },
    splitLine: { show: true, lineStyle: { color: "#d9d9d9", width: 4 } },
  };
}

function lineSeries(name: string, data: number[][], axis: number, dashed: boolean) {
  return {
    name, type: "line", xAxisIndex: axis, yAxisIndex: axis, data,
    symbol: "none", showSymbol: false, silent: true, z: 2,
    color: COLORS[name],
    lineStyle: { color: COLORS[name], width: 5, type: dashed ? "dashed" : "solid" },
    itemStyle: { color: COLORS[name] },
    emphasis: { disabled: true },
  };
}

function legendItems(names: string[], cols: number, x0: number, dx: number, y0: number, dy: number, dashed: string[]) {
  return names.map((name, i) => ({
    show: true,
    data: [{ name, icon: dashed.includes(name) ? DASH_ICON : SOLID_ICON }],
    left: x0 + (i % cols) * dx,
    top: y0 + Math.floor(i / cols) * dy - 24,
    orient: "horizontal",
    padding: 0,
    itemGap: 0,
    itemWidth: 148,
    itemHeight: 48,
    selectedMode: false,
    itemStyle: { borderWidth: 0 },
    textStyle: { color: "#000", fontSize: 48, fontFamily: FONT, lineHeight: 48, padding: [0, 0, 0, 13] },
    z: 20,
  }));
}

function panelTitle(letter: string, title: string, bx: number, by: number, tx: number) {
  const cy = by + 37;
  return [
    { type: "rect", z: 10, shape: { x: bx, y: by, width: 73, height: 74 }, style: { fill: "#fff", stroke: "#000", lineWidth: 3 } },
    { type: "text", z: 11, x: bx + 36.5, y: cy, style: { text: letter, fill: "#000", font: `bold 48px ${FONT}`, align: "center", verticalAlign: "middle" } },
    { type: "text", z: 11, x: tx, y: cy, style: { text: title, fill: "#000", font: `51px ${FONT}`, align: "left", verticalAlign: "middle" } },
  ];
}
function axisName(text: string, x: number, y: number, rotated: boolean, size: number) {
  return {
    type: "text", z: 11, x, y, rotation: rotated ? Math.PI / 2 : 0,
    style: { text, fill: "#000", font: `${size}px ${FONT}`, lineHeight: 63, align: "center", verticalAlign: "middle" },
  };
}
function legendBox(x: number, y: number, w: number, h: number) {
  return { type: "rect", z: 10, shape: { x, y, width: w, height: h }, style: { fill: "#fff", stroke: "#000", lineWidth: 3 } };
}

function buildOption() {
  const series: any[] = [];
  A_NAMES.forEach((n) => series.push(lineSeries(n, A_DATA[n].map((v, k) => [A_START + k / 12, v]), 0, false)));
  B_NAMES.forEach((n) => series.push(lineSeries(n, B_DATA[n], 1, B_DASHED.includes(n))));
  C_NAMES.forEach((n) => series.push(lineSeries(n, C_DATA[n].map((v, k) => [A_START + k / 12, v]), 2, false)));

  // reference lines
  series.push({ type: "line", xAxisIndex: 1, yAxisIndex: 1, data: [[0, 0], [0, 4]], symbol: "none", silent: true, z: 3, lineStyle: { color: "#000", width: 2.5, type: [4, 6] } });
  series.push({
    type: "custom", xAxisIndex: 3, yAxisIndex: 3, coordinateSystem: "cartesian2d", silent: true, z: 1, clip: false,
    data: [[0, 0]],
    renderItem: (params: any, api: any) => {
      if (params.dataIndex !== 0) return null;
      const pts: number[][] = [];
      D_MONTHS.forEach((m, i) => pts.push(api.coord([m, D_UPPER[i]])));
      for (let i = D_MONTHS.length - 1; i >= 0; i--) pts.push(api.coord([D_MONTHS[i], D_LOWER[i]]));
      return { type: "polygon", shape: { points: pts }, style: { fill: "rgba(60,135,135,0.3)" } };
    },
  });
  series.push({ type: "line", xAxisIndex: 3, yAxisIndex: 3, data: [[-48, 0], [48, 0]], symbol: "none", silent: true, z: 2, lineStyle: { color: ORANGE, width: 6, type: [3, 3] } });
  series.push({ type: "line", xAxisIndex: 3, yAxisIndex: 3, data: [[0, -5], [0, 15]], symbol: "none", silent: true, z: 2, lineStyle: { color: "#000", width: 2.5, type: [4, 6] } });
  series.push({
    type: "scatter", xAxisIndex: 3, yAxisIndex: 3, silent: true, z: 4,
    data: D_MONTHS.map((m, i) => [m, D_EST[i]]),
    symbol: "diamond", symbolSize: [20, 28], itemStyle: { color: SLATE },
  });

  const Y_NAME = "Proportion of state residents participating\nin WIC, %";
  const graphic = [
    ...panelTitle("A", "Non-EBT states", 27, 50, 133),
    ...panelTitle("B", "EBT implemented between 2014 and 2019", 2051, 50, 2155),
    ...panelTitle("C", "EBT implemented before October 2014", 27, 1758, 133),
    ...panelTitle("D", "Difference-in-differences estimates", 2051, 1758, 2155),
    legendBox(258, 164, 1527, 237),
    legendBox(2412, 164, 1262, 462),
    legendBox(258, 1881, 1527, 171),
    axisName(Y_NAME, 86, 971, true, 49),
    axisName(Y_NAME, 2111, 971, true, 49),
    axisName(Y_NAME, 86, 2503, true, 49),
    axisName("Change in WIC caseload relative to control, %", 2112, 2506, true, 49),
    axisName("Year", 1020, 1633, false, 50),
    axisName("Time since EBT implementation, mo", 3044, 1633, false, 50),
    axisName("Year", 1020, 3167, false, 50),
    axisName("Time since policy change, mo", 3044, 3169, false, 50),
  ];

  return {
    animation: false,
    backgroundColor: "#fff",
    textStyle: { fontFamily: FONT },
    grid: [
      { left: 224, top: 444, width: 1591, height: 1055 },
      { left: 2249, top: 444, width: 1590, height: 1055 },
      { left: 224, top: 1976, width: 1591, height: 1055 },
      { left: 2248, top: 1976, width: 1591, height: 1055 },
    ],
    xAxis: [xAxis(0, 2014, 2020, 1), xAxis(1, -60, 60, 12), xAxis(2, 2014, 2020, 1), xAxis(3, -48, 48, 12)],
    yAxis: [yAxis(0, 0, 4, 1), yAxis(1, 0, 4, 1), yAxis(2, 0, 4, 1), yAxis(3, -5, 15, 5)],
    legend: [
      ...legendItems(A_NAMES, 5, 291, 307, 216, 66, []),
      ...legendItems(B_NAMES, 4, 2446, 322, 216, 59.5, B_DASHED),
      ...legendItems(C_NAMES, 5, 291, 307, 1933, 65, []),
    ],
    graphic,
    series,
  };
}

export default function App() {
  const ref = useRef<HTMLDivElement>(null);
  useEffect(() => {
    if (!ref.current) return;
    const chart = echarts.init(ref.current, null, { renderer: "svg" });
    chart.setOption(buildOption() as any);
    return () => chart.dispose();
  }, []);
  return <div ref={ref} style={{ position: "absolute", left: 0, top: 0, width: 3892, height: 3233, background: "#fff" }} />;
}
